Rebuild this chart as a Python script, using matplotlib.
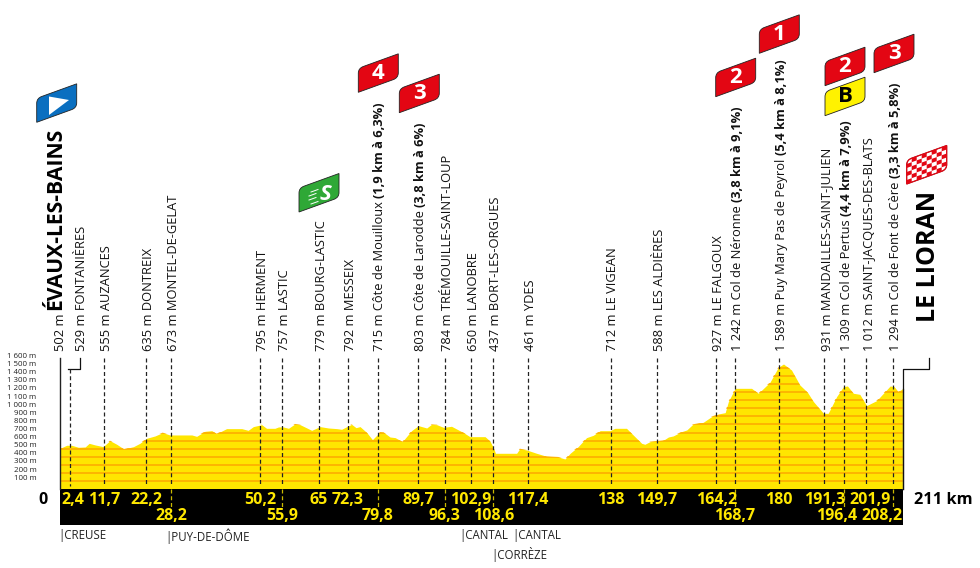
import matplotlib
matplotlib.use('Agg')
import matplotlib.pyplot as plt
import matplotlib.transforms as mtransforms
from matplotlib.path import Path
from matplotlib.patches import PathPatch, Polygon

plt.rcParams['font.family'] = ['Open Sans', 'DejaVu Sans']
NARROW = ['Liberation Sans Narrow', 'Open Sans', 'DejaVu Sans']

# profile
profile_km = [0, 1.7, 2.9, 4.6, 6.3, 7.3, 8.8, 10.8, 12.5, 14.2, 16.0, 18.4, 20.0, 21.7, 23.8, 25.7, 27.5, 33.0, 34.2,
              36.3, 38.0, 39.2, 41.7, 45.5, 47.1, 48.4, 50.5, 51.7, 53.8, 54.7, 55.9, 57.2, 58.8, 60.1, 63.0, 65.1,
              67.2, 69.3, 70.5, 71.8, 73.0, 74.1, 75.1, 76.8, 78.2, 80.1, 81.0, 82.6, 83.9, 85.7, 88.0, 89.7, 91.8,
              93.0, 94.3, 96.0, 98.0, 101.0, 102.6, 106.4, 107.6, 108.6, 109.0, 114.3, 115.1, 116.8, 119.3, 121.8,
              124.7, 126.4, 127.7, 129.7, 131.8, 133.5, 135.2, 137.7, 138.9, 141.8, 143.9, 145.6, 146.4, 147.7,
              151.0, 152.3, 153.5, 155.6, 156.9, 158.4, 161.0, 163.1, 164.8, 166.5, 167.3, 169.0, 173.1, 174.8,
              177.7, 179.8, 181.1, 183.1, 185.2, 187.1, 188.6, 191.1, 192.3, 194.4, 196.1, 197.1, 198.6, 200.2,
              201.9, 204.4, 207.8, 208.8, 209.8, 210.8, 211]
profile_alt = [505, 543, 543, 518, 522, 567, 547, 526, 600, 555, 497, 526, 567, 629, 658, 699, 670, 670, 653,
               715, 723, 686, 748, 748, 727, 773, 797, 752, 752, 769, 769, 752, 806, 797, 727, 773,
               756, 748, 740, 773, 801, 760, 773, 699, 612, 707, 703, 645, 637, 588, 723, 785, 756,
               801, 797, 764, 777, 699, 649, 649, 596, 501, 444, 444, 501, 485, 444, 407,
               399, 374, 444, 526, 637, 666, 723, 723, 752, 752, 649, 567, 555, 588,
               604, 645, 658, 711, 732, 801, 826, 896, 929, 945, 1081, 1245, 1245, 1184,
               1319, 1504, 1545, 1471, 1286, 1196, 1081, 937, 937, 1143, 1266, 1274, 1184, 1171,
               1032, 1093, 1274, 1266, 1204, 1237, 1237]
altitude_ticks = list(range(100, 1700, 100))
altitude_labels = [f'{a} m' if a < 1000 else f'{a // 1000} {a % 1000:03d} m' for a in altitude_ticks]

# waypoints: text, bold part, position of the text and of the dashed line in km
place_names = ['529 m FONTANIÈRES', '555 m AUZANCES', '635 m DONTREIX', '673 m MONTEL-DE-GELAT', '795 m HERMENT',
               '757 m LASTIC', '779 m BOURG-LASTIC', '792 m MESSEIX', '715 m Côte de Mouilloux', '803 m Côte de Larodde',
               '784 m TRÉMOUILLE-SAINT-LOUP', '650 m LANOBRE', '437 m BORT-LES-ORGUES', '461 m YDES', '712 m LE VIGEAN',
               '588 m LES ALDIÈRES', '927 m LE FALGOUX', '1 242 m Col de Néronne', '1 589 m Puy Mary Pas de Peyrol',
               '931 m MANDAILLES-SAINT-JULIEN', '1 309 m Col de Pertus', '1 012 m SAINT-JACQUES-DES-BLATS',
               '1 294 m Col de Font de Cère']
place_bold = ['', '', '', '', '', '', '', '', '(1,9 km à 6,3%)', '(3,8 km à 6%)', '', '', '', '', '', '', '',
              '(3,8 km à 9,1%)', '(5,4 km à 8,1%)', '', '(4,4 km à 7,9%)', '', '(3,3 km à 5,8%)']
place_text_km = [4.9, 11.0, 21.5, 27.8, 50.0, 55.6, 64.8, 72.0, 79.5, 89.6, 96.3, 102.9, 108.5, 117.2, 137.8,
                 149.4, 164.3, 168.9, 180, 191.3, 196.3, 201.8, 208.5]
marker_km = [2.4, 11.0, 21.5, 27.8, 50.0, 55.6, 64.8, 72.0, 79.5, 89.6, 96.3, 102.9, 108.5, 117.2, 137.8,
             149.4, 164.3, 168.9, 180, 191.3, 196.3, 201.8, 208.5]
km_labels = ['2,4', '11,7', '22,2', '28,2', '50,2', '55,9', '65', '72,3', '79,8', '89,7', '96,3', '102,9', '108,6',
             '117,4', '138', '149,7', '164,2', '168,7', '180', '191,3', '196,4', '201,9', '208,2']
km_label_x = [3.2, 11.0, 21.7, 27.8, 50.0, 55.6, 64.8, 72.0, 79.5, 89.6, 96.3, 102.9, 108.5, 117.2, 137.8,
              149.4, 164.3, 168.9, 180, 191.3, 194.4, 202.7, 205.8]
km_label_row = [0, 0, 0, 1, 0, 1, 0, 0, 1, 0, 1, 0, 1, 0, 0, 0, 0, 1, 0, 0, 1, 0, 1]

departments = ['CREUSE', 'PUY-DE-DÔME', 'CANTAL', 'CANTAL', 'CORRÈZE']
department_px = [58, 165, 459, 512, 491]
department_py = [536, 536, 536, 536, 554]

PX_PER_KM = 3.995
PX_PER_M = 0.0811
X0, Y0 = 60, 489.3

fig = plt.figure(figsize=(9.8, 5.68), dpi=100)
ax = fig.add_axes([0, 0, 1, 1])
ax.set_xlim(-X0 / PX_PER_KM, (980 - X0) / PX_PER_KM)
ax.set_ylim(-(568 - Y0) / PX_PER_M, Y0 / PX_PER_M)
ax.axis('off')

px = fig.add_axes([0, 0, 1, 1])
px.set_xlim(0, 980)
px.set_ylim(568, 0)
px.axis('off')
px.patch.set_alpha(0)

km_py = mtransforms.blended_transform_factory(ax.transData, px.transData)
px_alt = mtransforms.blended_transform_factory(px.transData, ax.transData)

# profile with clipped stripes
fill = ax.fill_between(profile_km, 0, profile_alt, color='#ffe600', lw=0)
stripes = ax.hlines(altitude_ticks[:-1], 0, 211, color='#fdb100', lw=1.3)
clip = Polygon(list(zip([0] + profile_km + [211], [0] + profile_alt + [0])), transform=ax.transData)
stripes.set_clip_path(clip)
ax.plot([211, 211], [0, 1237], color='#777777', lw=1)
ax.axhspan(-(524.5 - Y0) / PX_PER_M, 0, xmin=X0 / 980, xmax=(X0 + 211 * PX_PER_KM) / 980, color='black', lw=0)

for a, lab in zip(altitude_ticks, altitude_labels):
    px.text(36.5, a + 37, lab, transform=px_alt, ha='right', va='center', fontsize=5.7, color='#222222')

# start / finish lines
px.plot([60, 60], [358, 489], color='#222222', lw=1)
px.plot([67.6, 80, 80], [369, 369, 358], color='#111111', lw=0.9)
px.plot([903, 903, 929, 929], [489, 369, 369, 358], color='#111111', lw=0.9)

# dashed lines
for i, m in enumerate(marker_km):
    top = 369 if i == 0 else 358
    px.plot([m, m], [top, 486], transform=km_py, color='#222222', lw=0.9, dashes=(3.2, 2.2))
    if km_label_row[i]:
        px.plot([m, m], [489, 507], transform=km_py, color='#c9b800', lw=0.9, dashes=(3.2, 2.2))

# waypoint texts
px.text(60.5, 351, '502 m', rotation=90, ha='center', va='bottom', fontsize=9.3, color='#111111')
for name, bold, x in zip(place_names, place_bold, place_text_km):
    t = px.text(x + 0.6, 351, name, transform=km_py, rotation=90, ha='center', va='bottom', fontsize=9.3, color='#111111')
    if bold:
        px.annotate(bold, xy=(0.5, 1), xycoords=t, xytext=(0, 2.5), textcoords='offset points', rotation=90,
                    ha='center', va='bottom', fontsize=9.3, fontweight='bold', color='#111111')

px.text(56, 310, 'ÉVAUX-LES-BAINS', rotation=90, ha='center', va='bottom', fontsize=15.2, fontweight='bold', color='black')
px.text(928, 322, 'LE LIORAN', rotation=90, ha='center', va='bottom', fontsize=18, fontweight='bold', color='black')

# km band
for lab, x, row in zip(km_labels, km_label_x, km_label_row):
    px.text(x, 499.5 + 16.7 * row, lab, transform=km_py, ha='center', va='center', fontsize=11.5, fontweight='bold',
            family=NARROW, color='#ffe800')
px.text(43, 499.5, '0', ha='center', va='center', fontsize=11.5, fontweight='bold', color='black')
px.text(914, 499.5, '211 km', ha='left', va='center', fontsize=11.8, fontweight='bold', color='black')

for d, x, y in zip(departments, department_px, department_py):
    px.text(x, y, '|' + d, ha='left', va='center', fontsize=8.3, color='#222222')


def badge_path(x0, y0, w=40, h=24, r=5):
    slope = 14.5 / 40
    verts = [(x0, y0), (x0, y0 - h + r), (x0, y0 - h), (x0 + r, y0 - h - r * slope),
             (x0 + w, y0 - h - w * slope), (x0 + w, y0 - w * slope - r), (x0 + w, y0 - w * slope),
             (x0 + w - r, y0 - (w - r) * slope), (x0, y0), (x0, y0)]
    codes = [Path.MOVETO, Path.LINETO, Path.CURVE3, Path.CURVE3, Path.LINETO, Path.LINETO, Path.CURVE3, Path.CURVE3,
             Path.LINETO, Path.CLOSEPOLY]
    return Path(verts, codes)


def badge(x0, y0, color, label=None, tcolor='white', size=16):
    p = PathPatch(badge_path(x0, y0), facecolor=color, edgecolor='#222222', lw=0.6, zorder=5)
    px.add_patch(p)
    if label:
        px.text(x0 + 20, y0 - 19, label, ha='center', va='center', fontsize=size, fontweight='bold', family=NARROW,
                color=tcolor, zorder=6)
    return p


badge(358.3, 92.3, '#e30613', '4')
badge(399.3, 112.7, '#e30613', '3')
badge(715.7, 96.7, '#e30613', '2')
badge(759.3, 53.3, '#e30613', '1')
badge(825, 85.7, '#e30613', '2')
badge(874, 72.7, '#e30613', '3')
badge(825, 115.7, '#fff200', 'B', tcolor='black')

# start flag
badge(36.7, 122.3, '#0a6fc0')
px.add_patch(Polygon([(49, 115), (49, 96.5), (69, 100)], facecolor='white', lw=0, zorder=6))

# sprint flag
badge(299, 212, '#2fa836')
px.text(325, 194, 'S', ha='center', va='center', fontsize=16, fontweight='bold', style='italic', family=NARROW,
        color='white', zorder=6)
for dy, x_start in zip([-6, -2, 2, 6], [311, 309, 309, 311]):
    px.plot([x_start, x_start + 7], [198 + dy, 195.5 + dy], color='white', lw=0.7, zorder=6)

# finish flag
shape = badge(906.7, 184, 'white')
for col in range(8):
    for row in range(6):
        if (col + row) % 2 == 0:
            u0, u1 = col * 5, (col + 1) * 5
            v0, v1 = row * 4, (row + 1) * 4
            slope = 14.5 / 40
            cell = Polygon([(906.7 + u0, 184 - v0 - u0 * slope), (906.7 + u1, 184 - v0 - u1 * slope),
                            (906.7 + u1, 184 - v1 - u1 * slope), (906.7 + u0, 184 - v1 - u0 * slope)],
                           facecolor='#e30613', lw=0, zorder=6)
            px.add_patch(cell)
            cell.set_clip_path(shape)
px.add_patch(PathPatch(badge_path(906.7, 184), facecolor='none', edgecolor='#e30613', lw=0.9, zorder=7))

fig.savefig('out.png', dpi=100)
